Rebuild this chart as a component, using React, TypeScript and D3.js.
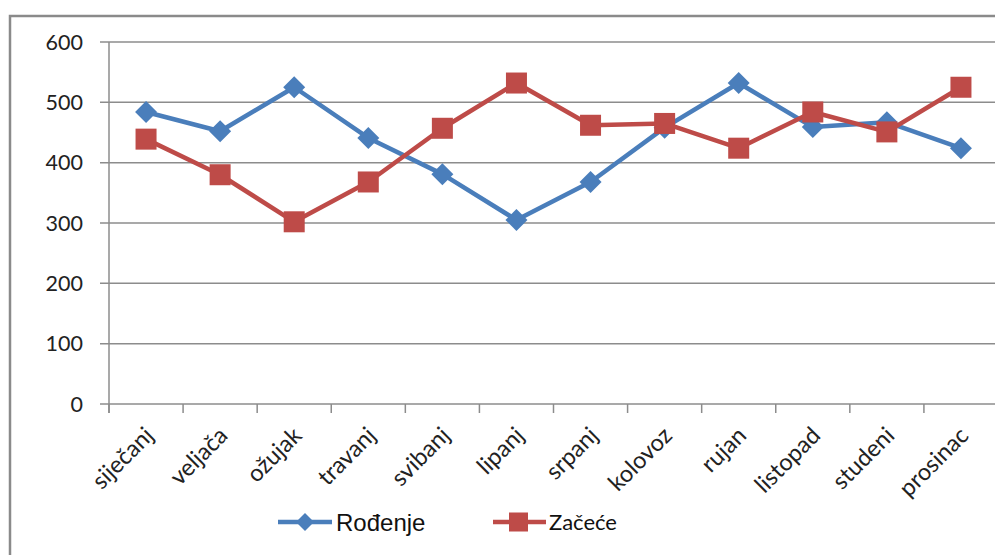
import React, { useEffect, useRef } from "react";
import * as d3 from "d3";

// month labels (Croatian)
const months = [
  "siječanj", "veljača", "ožujak", "travanj", "svibanj", "lipanj",
  "srpanj", "kolovoz", "rujan", "listopad", "studeni", "prosinac",
];
// births per month
const rodjenje = [484, 452, 525, 441, 381, 305, 368, 458, 532, 459, 467, 424];
// conceptions per month
const zacece = [439, 380, 302, 368, 457, 532, 462, 465, 424, 484, 451, 525];
const yTicks = [0, 100, 200, 300, 400, 500, 600];

const BLUE = "#4A7EBB";
const RED = "#BE4B48";
const GRID = "#8c8c8c";

const App = () => {
  const ref = useRef<SVGSVGElement>(null);

  useEffect(() => {
    const width = 995,
      height = 555;
    const margin = { top: 42, right: -3, bottom: 151, left: 109 };

    const svg = d3.select(ref.current);
    svg.selectAll("*").remove();

    // outer chart frame (only top and left edges visible)
    svg
      .append("path")
      .attr("d", `M10,${height + 5}V16H${width + 5}`)
      .attr("fill", "none")
      .attr("stroke", "#8a8a8a")
      .attr("stroke-width", 2.5);

    const x = d3
      .scaleBand()
      .domain(months)
      .range([margin.left, width - margin.right]);

    const y = d3
      .scaleLinear()
      .domain([0, 600])
      .range([height - margin.bottom, margin.top]);

    const g = svg.append("g");

    // horizontal gridlines + y ticks
    g.selectAll(".grid")
      .data(yTicks)
      .enter()
      .append("line")
      .attr("x1", margin.left - 9)
      .attr("x2", width)
      .attr("y1", (d) => y(d))
      .attr("y2", (d) => y(d))
      .attr("stroke", GRID)
      .attr("stroke-width", 1.5);

    g.selectAll(".ylab")
      .data(yTicks)
      .enter()
      .append("text")
      .attr("x", margin.left - 26)
      .attr("y", (d) => y(d))
      .attr("dy", "0.36em")
      .attr("text-anchor", "end")
      .attr("font-family", "Lato, 'Open Sans', sans-serif")
      .attr("font-size", 21.5)
      .attr("fill", "#222")
      .text((d) => d);

    // y axis line
    g.append("line")
      .attr("x1", margin.left)
      .attr("x2", margin.left)
      .attr("y1", y(600))
      .attr("y2", y(0) + 9)
      .attr("stroke", GRID)
      .attr("stroke-width", 1.5);

    // x ticks at band boundaries
    g.selectAll(".xtick")
      .data(months)
      .enter()
      .append("line")
      .attr("x1", (d) => x(d)!)
      .attr("x2", (d) => x(d)!)
      .attr("y1", y(0))
      .attr("y2", y(0) + 9)
      .attr("stroke", GRID)
      .attr("stroke-width", 1.5);

    const cx = (d: string) => x(d)! + x.bandwidth() / 2;

    g.selectAll(".xlab")
      .data(months)
      .enter()
      .append("text")
      .attr("transform", (d) => `translate(${cx(d) + 9},${y(0) + 33}) rotate(-45)`)
      .attr("text-anchor", "end")
      .attr("font-family", "Lato, 'Open Sans', sans-serif")
      .attr("font-size", 23.5)
      .attr("fill", "#222")
      .text((d) => d);

    const line = d3
      .line<number>()
      .x((d, i) => cx(months[i]))
      .y((d) => y(d));

    // Rođenje series
    g.append("path")
      .datum(rodjenje)
      .attr("d", line)
      .attr("fill", "none")
      .attr("stroke", BLUE)
      .attr("stroke-width", 4.5)
      .attr("stroke-linejoin", "round");

    const diamond = (s: number) => `M0,${-s}L${s},0L0,${s}L${-s},0Z`;

    g.selectAll(".dia")
      .data(rodjenje)
      .enter()
      .append("path")
      .attr("transform", (d, i) => `translate(${cx(months[i])},${y(d)})`)
      .attr("d", diamond(11))
      .attr("fill", BLUE);

    // Začeće series
    g.append("path")
      .datum(zacece)
      .attr("d", line)
      .attr("fill", "none")
      .attr("stroke", RED)
      .attr("stroke-width", 4.5)
      .attr("stroke-linejoin", "round");

    g.selectAll(".sq")
      .data(zacece)
      .enter()
      .append("rect")
      .attr("x", (d, i) => cx(months[i]) - 10.5)
      .attr("y", (d) => y(d) - 10.5)
      .attr("width", 21)
      .attr("height", 21)
      .attr("fill", RED);

    // legend
    const ly = 522;
    const leg = svg.append("g");
    leg.append("line")
      .attr("x1", 278).attr("x2", 332).attr("y1", ly).attr("y2", ly)
      .attr("stroke", BLUE).attr("stroke-width", 4.5);
    leg.append("path")
      .attr("transform", `translate(305,${ly})`)
      .attr("d", diamond(9))
      .attr("fill", BLUE);
    leg.append("text")
      .attr("x", 336).attr("y", ly).attr("dy", "0.36em")
      .attr("font-family", "'Liberation Sans', Arial, sans-serif")
      .attr("font-size", 24)
      .attr("fill", "#111")
      .text("Rođenje");

    leg.append("line")
      .attr("x1", 493).attr("x2", 546).attr("y1", ly).attr("y2", ly)
      .attr("stroke", RED).attr("stroke-width", 4.5);
    leg.append("rect")
      .attr("x", 509).attr("y", ly - 9.5).attr("width", 19).attr("height", 19)
      .attr("fill", RED);
    leg.append("text")
      .attr("x", 549).attr("y", ly).attr("dy", "0.36em")
      .attr("font-family", "Lato, 'Open Sans', sans-serif")
      .attr("font-size", 22)
      .attr("fill", "#111")
      .text("Začeće");
  }, []);

  return (
    <div style={{ position: "absolute", left: 0, top: 0 }}>
      <svg ref={ref} width={995} height={555} style={{ display: "block", background: "#fff" }} />
    </div>
  );
};

export default App;
